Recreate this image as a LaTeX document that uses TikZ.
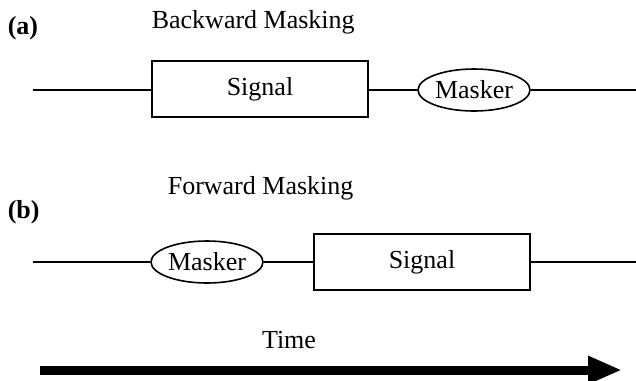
\documentclass[tikz,border=0pt]{standalone}
\usepackage{fontspec}
\setmainfont{Liberation Serif}
\usetikzlibrary{shapes.geometric,arrows.meta}

\tikzset{every picture/.style={line width=1.2pt}}
\tikzset{
  sigbox/.style={draw, rectangle, inner sep=0pt, minimum width=162pt, minimum height=42pt},
  maskell/.style={draw, ellipse, inner sep=0pt, minimum width=84pt, minimum height=31.5pt},
  lbl/.style={anchor=west, inner sep=0.75pt},
}

\begin{document}
\begin{tikzpicture}[x=0.75pt,y=0.75pt,yscale=-1,xscale=1,font=\fontsize{19.5}{23}\selectfont]
\useasboundingbox (0,0) rectangle (636,380);

% Text Node
\node [lbl, font=\fontsize{19.5}{23}\selectfont\bfseries] (pa) at (6,28) {(a)};
% Text Node
\node [lbl] (ta) at (150,22) {Backward Masking};

%Shape: Rectangle
\node [sigbox] (sa) at (260,89) {Signal};
%Shape: Ellipse
\node [maskell] (ma) at (474,90) {Masker};
%Straight Lines
\coordinate (aL) at (33,90);
\coordinate (aR) at (636,90);
\draw (aL) -- (sa.west |- aL);
\draw (sa.east |- ma) -- (ma.west);
\draw (ma.east) -- (aR);

% Text Node
\node [lbl, font=\fontsize{19.5}{23}\selectfont\bfseries] (pb) at (6,212) {(b)};
% Text Node
\node [lbl] (tb) at (166,188) {Forward Masking};

%Shape: Ellipse
\node [maskell] (mb) at (207,262) {Masker};
%Shape: Rectangle
\node [sigbox] (sb) at (422,262) {Signal};
%Straight Lines
\coordinate (bL) at (33,262);
\coordinate (bR) at (636,262);
\draw (bL) -- (mb.west);
\draw (mb.east) -- (sb.west);
\draw (sb.east) -- (bR);

% Text Node
\node [inner sep=0.75pt] (tt) at (289,340) {Time};
%Arrow
\coordinate (tS) at (40,370);
\coordinate (tE) at (622,370);
\draw [line width=6.75pt, -{Triangle[length=25.5pt, width=19.5pt]}] (tS) -- (tE);

\end{tikzpicture}
\end{document}
